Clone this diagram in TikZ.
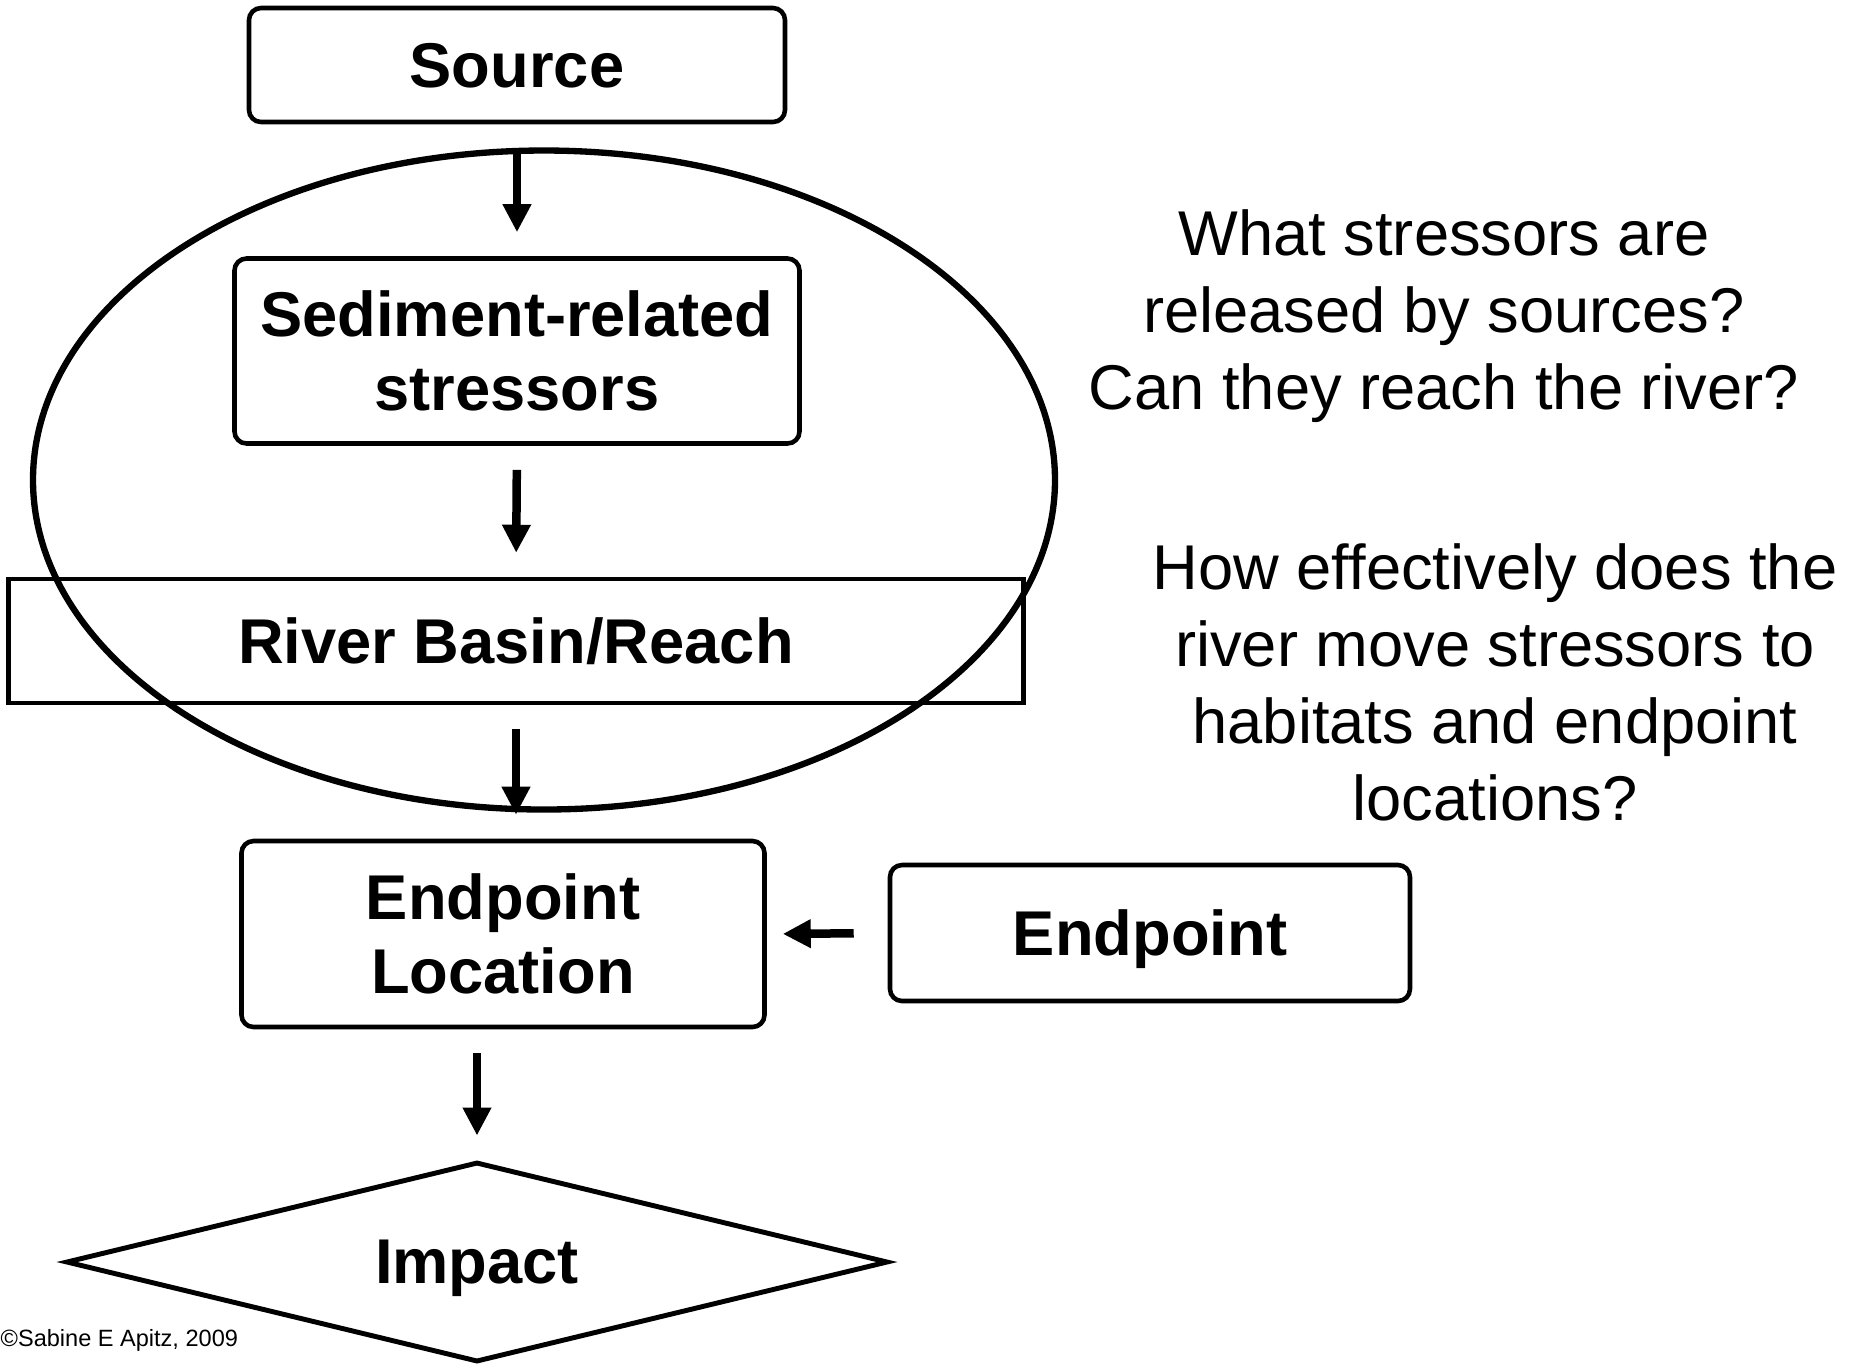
\documentclass[tikz,border=0pt]{standalone}
\usepackage{fontspec}
\setmainfont{Liberation Sans}
\usetikzlibrary{shapes.geometric, arrows.meta, positioning}

\begin{document}
\begin{tikzpicture}[
  x=0.1mm, y=-0.1mm,
  box/.style={draw, line width=1.3pt, rounded corners=1.2mm, inner sep=0pt,
    align=center, font=\bfseries\fontsize{18}{21}\selectfont},
  flow/.style={-{Triangle[length=2.8mm,width=2.7mm]}, line width=0.85mm,
    shorten >=2.4mm, shorten <=2.4mm},
  question/.style={align=center, font=\fontsize{18}{21.9}\selectfont}]

  \useasboundingbox (0,0) rectangle (1860,1363);

  % left column
  \node[box, text depth=0pt, minimum width=53.6mm, minimum height=11.4mm] (source) at (517,65) {Source};
  \node[box, minimum width=56.5mm, minimum height=18.5mm] (stressors) at (517,351) {Sediment-related\\stressors};
  \node[box, sharp corners, text depth=0pt, minimum width=101.5mm, minimum height=12.4mm] (river) at (516,641) {River Basin/Reach};
  \node[draw, ellipse, line width=1.8pt, minimum width=102.2mm, minimum height=65.9mm] (basin) at (544,480) {};
  \node[box, minimum width=52.3mm, minimum height=18.6mm] (endloc) at (503,934) {Endpoint\\Location};
  \node[box, text depth=0pt, minimum width=52mm, minimum height=13.6mm] (endpoint) at (1150,933) {Endpoint};
  \node[box, diamond, sharp corners, text depth=0pt, aspect=4, line width=1.4pt,
    minimum width=82.2mm, minimum height=20mm] (impact) at (477,1262) {Impact};

  % questions
  \node[question] (q1) at (1444,316) {What stressors are\\released by sources?\\Can they reach the river?};
  \node[question] (q2) at (1495,682) {How effectively does the\\river move stressors to\\habitats and endpoint\\locations?};

  \node[anchor=west, inner sep=0pt, font=\fontsize{6.7}{8}\selectfont] (credit) at (0,1340) {©Sabine E Apitz, 2009};

  % arrows
  \draw[flow] (source.south) -- (stressors.north);
  \draw[flow] (stressors.south) -- (river.north);
  \draw[flow] (river.south) -- (river.south |- endloc.north);
  \draw[flow] (impact.north |- endloc.south) -- (impact.north);
  \draw[flow, shorten >=1.6mm, shorten <=3.4mm] (endpoint.west) -- (endloc.east);
\end{tikzpicture}
\end{document}
